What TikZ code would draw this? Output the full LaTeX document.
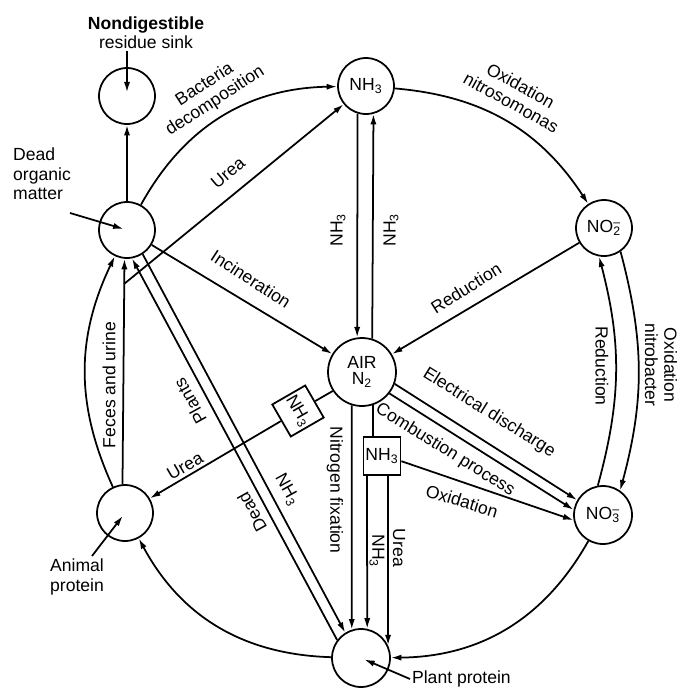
\documentclass[tikz,border=0pt]{standalone}
\usepackage{fontspec}
\setmainfont{Liberation Sans}
\usetikzlibrary{arrows.meta}

\newcommand{\nox}[1]{NO\rlap{\textsuperscript{--}}\textsubscript{#1}}

\begin{document}
\begin{tikzpicture}[x=0.02cm,y=-0.02cm,
    pool/.style={circle,draw,line width=1pt,minimum size=1.12cm,inner sep=0pt,font=\fontsize{10}{11}\selectfont},
    tag/.style={draw,line width=1pt,minimum width=0.74cm,minimum height=0.76cm,inner sep=1pt,font=\fontsize{10}{11}\selectfont},
    flow/.style={line width=1pt,-{Latex[length=6pt,width=3.5pt]}},
    link/.style={line width=1pt},
    lab/.style={font=\fontsize{10}{11}\selectfont,inner sep=1pt}]
    \useasboundingbox (0,0) rectangle (681,690);

    % Nitrogen pools
    \node[pool] (S) at (127,96) {};
    \node[pool] (D) at (127,230) {};
    \node[pool] (N) at (366,86) {NH\textsubscript{3}};
    \node[pool] (T) at (604,228) {\nox{2}};
    \node[pool,minimum size=1.36cm,align=center] (A) at (362,372) {AIR\\[-2pt]N\textsubscript{2}};
    \node[pool,minimum size=1.16cm] (E) at (603,515) {\nox{3}};
    \node[pool] (P) at (125,513) {};
    \node[pool,minimum size=1.16cm] (L) at (361,658) {};

    % NH3 boxes
    \node[tag] (bv) at (382,456) {NH\textsubscript{3}};
    \node[tag,rotate=-60] (bt) at (298,411) {NH\textsubscript{3}};

    % Pool names
    \node[lab,align=center] (sinklab) at (146,33) {\textbf{Nondigestible}\\residue sink};
    \node[lab,align=left] (deadlab) at (42,174) {Dead\\organic\\matter};
    \node[lab,align=left] (animlab) at (77,577) {Animal\\protein};
    \node[lab,anchor=west] (plantlab) at (410,679) {Plant protein};
    \coordinate (deadpt) at (70,213);
    \coordinate (animpt) at (92,556);
    \coordinate (ureastart) at (124,284);

    \draw[flow,shorten >=2pt] (sinklab.south -| S) -- (S.center);
    \draw[flow,shorten >=2pt] (deadpt) -- (D.center);
    \draw[flow,shorten >=2pt] (animpt) -- (P.center);
    \draw[flow,shorten >=2pt] (plantlab.west) -- (L.center);

    % Outer ring
    \draw[flow] (D) to[bend left=30] (N);
    \draw[flow] (N) to[bend left=26] (T);
    \draw[flow] (T.-55) to[bend left=15] (E.55);
    \draw[flow] (E.100) to[bend right=15] (T.-100);
    \draw[flow] (E) to[bend left=30] (L);
    \draw[flow] (L) to[bend left=30] (P);
    \draw[flow] (P.115) to[bend left=25] (D.-115);
    \draw[flow] (P.95) -- (D.-95);
    \draw[flow] (D) -- (S);

    % Spokes
    \draw[flow] (ureastart) -- (N);
    \draw[flow] (D) -- (A);
    \draw[flow] (T) -- (A);
    \draw[flow] (N.-107) -- (A.98);
    \draw[flow] (A.73) -- (N.-75);
    \draw[flow] (A.-20) -- (E.150);
    \draw[flow] (A.-38) -- (E.170);
    \draw[link] (A.-71) -- (A.-71 |- bv.north);
    \draw[flow] (A.-107) -- (L.108);
    \draw[flow] ([xshift=-0.3cm]bv.south) -- (L.78);
    \draw[flow] ([xshift=0.12cm]bv.south) -- (L.25);
    \draw[flow] (bv.-15) -- (E.190);
    \draw[link] (A.213) -- (bt);
    \draw[flow] (bt) -- (P);
    \draw[flow] (L.143) -- (D.-80);
    \draw[flow] (D.-57) -- (L.122);

    % Process labels
    \node[lab,align=center,rotate=33] (bactlab) at (210,93) {Bacteria\\decomposition};
    \node[lab,align=center,rotate=-29] (nitrolab) at (516,94) {Oxidation\\nitrosomonas};
    \node[lab,rotate=40] (urealab) at (228,173) {Urea};
    \node[lab,rotate=-33] (incinlab) at (251,279) {Incineration};
    \node[lab,rotate=90] (nhleft) at (338,230) {NH\textsubscript{3}};
    \node[lab,rotate=90] (nhright) at (391,230) {NH\textsubscript{3}};
    \node[lab,rotate=32] (redlab) at (466,288) {Reduction};
    \node[lab,rotate=-90] (redlab2) at (602,366) {Reduction};
    \node[lab,align=center,rotate=-90] (bactolab) at (661,365) {Oxidation\\nitrobacter};
    \node[lab,rotate=-32] (eleclab) at (489,413) {Electrical discharge};
    \node[lab,rotate=-32] (comblab) at (445,450) {Combustion process};
    \node[lab,rotate=-17] (oxilab) at (462,501) {Oxidation};
    \node[lab,rotate=-90] (fixlab) at (335,490) {Nitrogen fixation};
    \node[lab,rotate=-90] (nhvlab) at (377,551) {NH\textsubscript{3}};
    \node[lab,rotate=-90] (ureavlab) at (399,548) {Urea};
    \node[lab,rotate=90] (feceslab) at (109,385) {Feces and urine};
    \node[lab,rotate=119] (plantslab) at (190,401) {Plants};
    \node[lab,rotate=119] (deadlab2) at (252,512) {Dead};
    \node[lab,rotate=-61] (nhdlab) at (287,490) {NH\textsubscript{3}};
    \node[lab,rotate=30] (urealab2) at (185,466) {Urea};
\end{tikzpicture}
\end{document}
